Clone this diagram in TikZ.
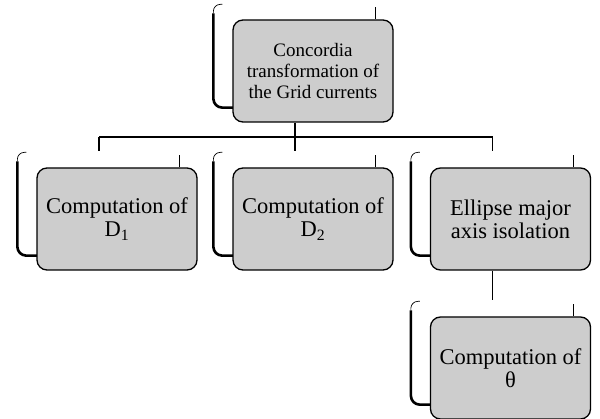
\documentclass[tikz,border=0pt]{standalone}
\usepackage{fontspec}
\setmainfont{Liberation Serif}
\usetikzlibrary{backgrounds,calc}
\definecolor{boxgray}{RGB}{205,205,205}
\tikzset{
  procbox/.style={rectangle, rounded corners=10pt, draw=black, line width=1.3pt,
    fill=boxgray, minimum width=160pt, minimum height=102pt, align=center,
    inner sep=2pt, font=\fontsize{22.5}{23}\selectfont},
  topbox/.style={procbox, font=\fontsize{19}{21}\selectfont},
  conn/.style={draw=black, line width=1.2pt},
  frameleft/.style={draw=black, line width=2.6pt, rounded corners=9pt},
  framethin/.style={draw=black, line width=0.7pt, rounded corners=7pt},
}
\newcommand{\backframe}[1]{%
  \draw[framethin] ([shift={(-19pt,6pt)}]#1.north west) -- ([shift={(-19pt,15pt)}]#1.north west) -- ([shift={(-10pt,15pt)}]#1.north west);
  \draw[frameleft] ([shift={(-19pt,6pt)}]#1.north west) -- ([shift={(-19pt,15pt)}]#1.south west) -- ([shift={(2pt,15pt)}]#1.south west);
  \draw[framethin] ([shift={(-18pt,12pt)}]#1.north east) -- ([shift={(-18pt,0pt)}]#1.north east);
}
\begin{document}
\begin{tikzpicture}[x=1pt,y=-1pt]
\useasboundingbox (0,0) rectangle (600,419);
\node[topbox] (top) at (313,71) {Concordia\\transformation of\\the Grid currents};
\node[procbox] (d1) at (117,219) {Computation of\\D\textsubscript{1}};
\node[procbox] (d2) at (313,219) {Computation of\\D\textsubscript{2}};
\node[procbox] (ell) at (510.5,219) {Ellipse major\\axis isolation};
\node[procbox] (th) at (510.5,368) {Computation of\\θ};
\coordinate (topout) at ([xshift=-18pt]top.south);
\coordinate (bus) at (topout |- 0,137);
\coordinate (d1in) at ([shift={(-18pt,16pt)}]d1.north);
\coordinate (d2in) at ([shift={(-18pt,16pt)}]d2.north);
\coordinate (ellin) at ([shift={(-18pt,16pt)}]ell.north);
\coordinate (ellout) at ([xshift=-18pt]ell.south);
\coordinate (thin) at ([shift={(-18pt,16pt)}]th.north);
\coordinate (busl) at (d1in |- bus);
\coordinate (busr) at (ellin |- bus);
\begin{scope}[on background layer]
\backframe{top}
\backframe{d1}
\backframe{d2}
\backframe{ell}
\backframe{th}
\end{scope}
\draw[conn] (topout) -- (bus);
\draw[conn] (busl) -- (busr);
\draw[conn] (busl) -- (d1in);
\draw[conn] (bus) -- (d2in);
\draw[conn] (busr) -- (ellin);
\draw[conn, line width=1.8pt] (ellout) -- (thin);
\end{tikzpicture}
\end{document}
